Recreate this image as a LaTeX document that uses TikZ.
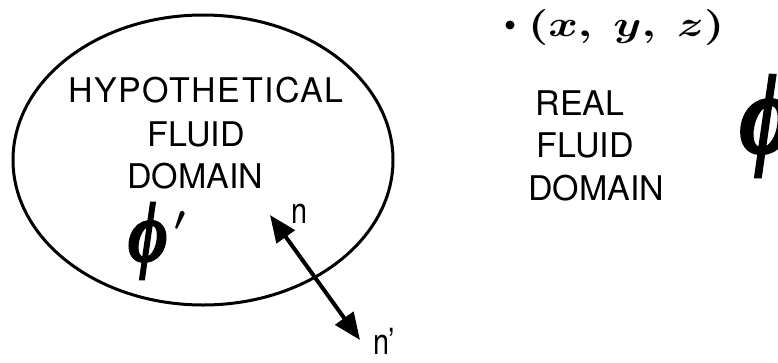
\documentclass[tikz,border=0pt]{standalone}
\usepackage{amsmath}
\usepackage{fontspec}
\setmainfont{TeX Gyre Heros}
\newfontfamily\phifont{Liberation Serif}[UprightFont={* Bold Italic}, FakeBold=2]
\usetikzlibrary{shapes.geometric,arrows.meta}
\tikzset{
  domaintext/.style={anchor=base, inner sep=0pt, font=\fontsize{34}{40}\selectfont},
  nlabel/.style={anchor=base, inner sep=0pt, font=\fontsize{36}{40}\selectfont},
  boundary/.style={draw, ellipse, line width=3pt, inner sep=0pt},
  normal/.style={line width=4pt, {Triangle[length=27pt,width=22pt]}-{Triangle[length=27pt,width=22pt]}},
  bigphi/.style={inner sep=0pt, font=\phifont}
}
\begin{document}
\begin{tikzpicture}[x=1pt,y=-1pt]
\useasboundingbox (0,0) rectangle (778,362);
% hypothetical domain boundary
\node[boundary, minimum width=380pt, minimum height=290pt] (hyp) at (203,160) {};
% texts inside
\node[domaintext] (h1) at (206,102) {\addfontfeature{LetterSpace=4.5}HYPOTHETICAL};
\node[domaintext] (h2) at (196,146) {FLUID};
\node[domaintext] (h3) at (195,188) {DOMAIN};
\node[bigphi] (phiin) at (148,241) {\fontsize{86}{86}\selectfont\scalebox{0.8}[1]{ϕ}};
\node[inner sep=0pt] (primein) at (180,221) {\scalebox{3.2}[3.4]{\boldmath$\prime$}};
% normals
\coordinate (ntip) at (270,215);
\coordinate (nptip) at (360,340);
\draw[normal] (ntip) -- (nptip);
\node[nlabel] (nlab) at (300,223) {\scalebox{0.8}[1]{n}};
\node[nlabel] (nplab) at (384,354) {\scalebox{0.8}[1]{n'}};
% point
\node[circle, fill, inner sep=0pt, minimum size=9pt] (pt) at (510,25) {};
\node[inner sep=0pt, anchor=west] (xyz) at (528,27) {\scalebox{4.5}[3.6]{\boldmath$(x,\ y,\ z)$}};
% real fluid domain text
\node[domaintext] (r1) at (580,115) {REAL};
\node[domaintext] (r2) at (585,157) {FLUID};
\node[domaintext] (r3) at (596,200) {DOMAIN};
\node[bigphi] (phiout) at (766,126) {\fontsize{114}{114}\selectfont\scalebox{0.8}[1]{ϕ}};
\end{tikzpicture}
\end{document}
